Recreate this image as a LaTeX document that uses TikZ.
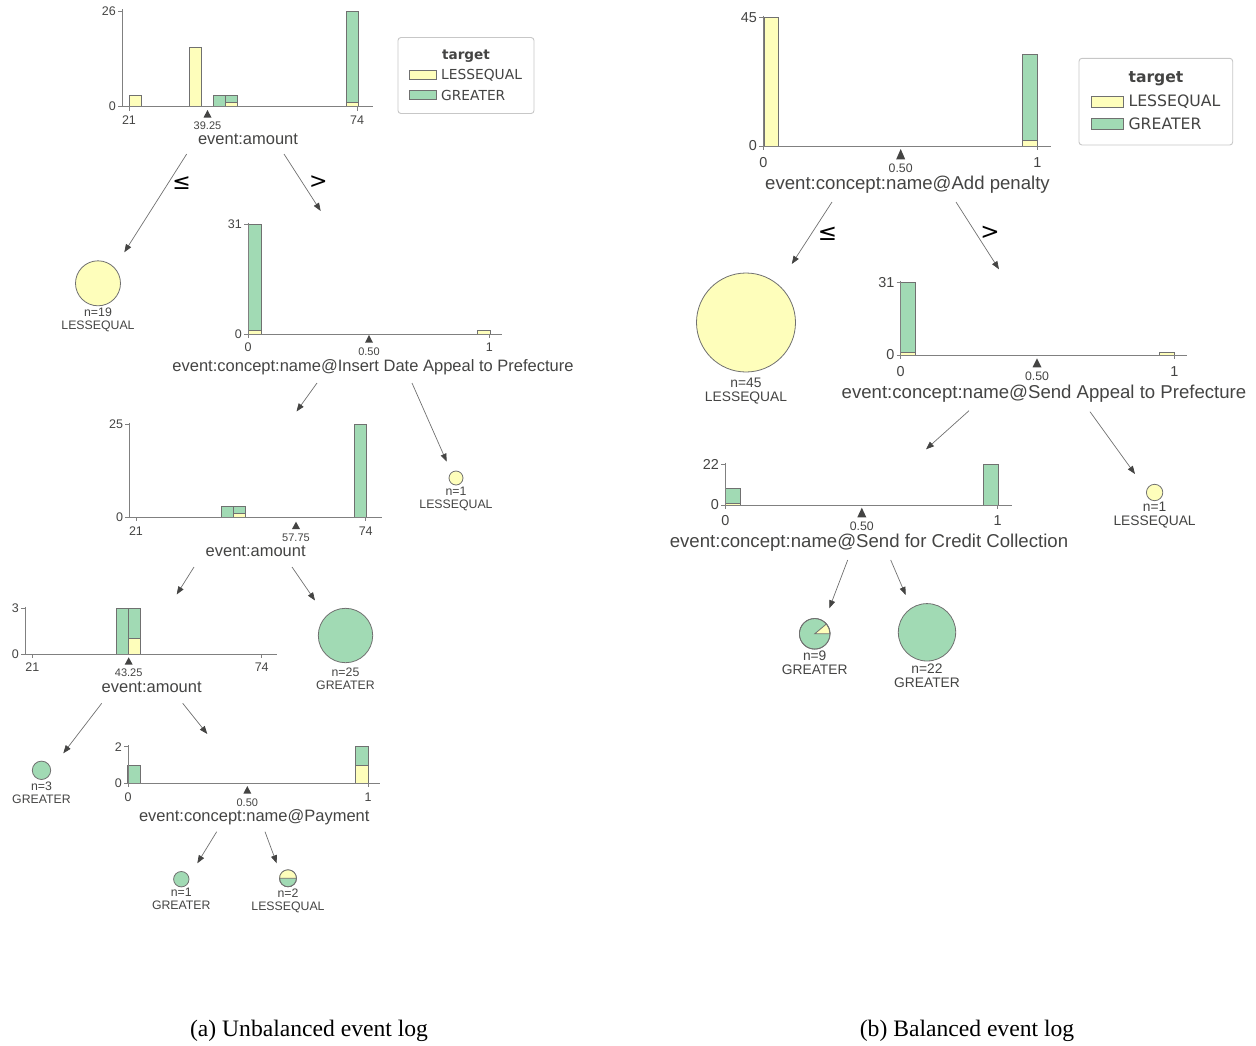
\documentclass[tikz,border=0pt]{standalone}
\usepackage{fontspec}
\setmainfont{Liberation Serif}
\newfontfamily\dtfont{Liberation Sans}
\newfontfamily\legfont{DejaVu Sans}
\usetikzlibrary{arrows.meta,positioning}
\definecolor{lessequal}{HTML}{FEFEBB}
\definecolor{greater}{HTML}{A1DAB4}
\definecolor{textgray}{HTML}{444443}
\definecolor{edgegray}{HTML}{707070}
\definecolor{axisgray}{HTML}{808080}
\tikzset{
  ybar/.style={fill=lessequal, draw=edgegray, line width=0.8pt},
  gbar/.style={fill=greater, draw=edgegray, line width=0.8pt},
  axis line/.style={draw=axisgray, line width=0.9pt},
  split wedge/.style={fill=textgray},
  edge arrow/.style={draw=edgegray, line width=0.7pt, -{Triangle[length=8pt,width=6pt,color=textgray]}},
  edge sign a/.style={inner sep=0pt, font=\legfont\fontsize{22}{22}\selectfont},
  edge sign b/.style={inner sep=0pt, font=\legfont\fontsize{23}{23}\selectfont},
  tick a/.style={text=textgray, inner sep=0pt, font=\dtfont\fontsize{12.5}{14}\selectfont},
  tick b/.style={text=textgray, inner sep=0pt, font=\dtfont\fontsize{14.4}{16}\selectfont},
  value a/.style={text=textgray, inner sep=0pt, font=\dtfont\fontsize{11}{12}\selectfont},
  value b/.style={text=textgray, inner sep=0pt, font=\dtfont\fontsize{12.3}{13}\selectfont},
  split a/.style={text=textgray, inner sep=0pt, font=\dtfont\fontsize{16.5}{18}\selectfont},
  split b/.style={text=textgray, inner sep=0pt, font=\dtfont\fontsize{18.6}{20}\selectfont},
  leaf/.style={circle, draw=edgegray, line width=0.8pt, inner sep=0pt, minimum size=#1},
  leaf text a/.style={text=textgray, inner sep=0pt, align=center, font=\dtfont\fontsize{12.3}{13}\selectfont},
  leaf text b/.style={text=textgray, inner sep=0pt, align=center, font=\dtfont\fontsize{13.8}{14.4}\selectfont},
  legend box/.style={draw=black!22, fill=white, rounded corners=3pt, line width=0.9pt},
  legend swatch/.style={draw=edgegray, line width=0.6pt},
  legend title a/.style={text=textgray, inner sep=0pt, font=\legfont\bfseries\fontsize{13.6}{15}\selectfont},
  legend title b/.style={text=textgray, inner sep=0pt, font=\legfont\bfseries\fontsize{15.6}{17}\selectfont},
  legend text a/.style={text=textgray, inner sep=0pt, anchor=west, font=\legfont\fontsize{13.8}{15}\selectfont},
  legend text b/.style={text=textgray, inner sep=0pt, anchor=west, font=\legfont\fontsize{15.7}{17}\selectfont},
  caption/.style={inner sep=0pt, font=\fontsize{23.6}{26}\selectfont}
}

\begin{document}
\begin{tikzpicture}[x=1pt, y=-1pt]
  \useasboundingbox (0,0) rectangle (1256,1045);

  \draw[ybar] (129,106.5) rectangle (141,95.5);
  \draw[ybar] (189,106.5) rectangle (201,47.7);
  \draw[gbar] (213.5,106.5) rectangle (225.5,95.5);
  \draw[ybar] (225.5,106.5) rectangle (237.5,102.8);
  \draw[gbar] (225.5,102.8) rectangle (237.5,95.5);
  \draw[ybar] (346,106.5) rectangle (358,102.8);
  \draw[gbar] (346,102.8) rectangle (358,11);
  \draw[axis line] (122,9) -- (122,106.5) -- (373,106.5);
  \draw[axis line] (118,11) -- (122,11) (118,106.5) -- (122,106.5) (129,106.5) -- (129,110.5) (357,106.5) -- (357,110.5);
  \node[tick a, anchor=east] (a1y1) at (116,11) {26};
  \node[tick a, anchor=east] (a1y0) at (116,106.5) {0};
  \node[tick a] (a1x0) at (129,120.5) {21};
  \node[tick a] (a1x1) at (357,120.5) {74};
  \fill[split wedge] (203.5,117.5) -- (211.5,117.5) -- (207.5,110) -- cycle;
  \node[value a] (a1v) at (207.5,126) {39.25};
  \node[split a] (sa1) at (248,139.5) {event:amount};

  \draw[legend box] (398,37.5) rectangle (534,113.5);
  \node[legend title a] (lega) at (466,56) {target};
  \draw[legend swatch, fill=lessequal] (409,70) rectangle (436,79.5);
  \node[legend text a] (lega1) at (441,75.5) {LESSEQUAL};
  \draw[legend swatch, fill=greater] (409,90) rectangle (436,99.5);
  \node[legend text a] (lega2) at (441,95.5) {GREATER};

  \coordinate (ea1s) at (186.7,154);
  \coordinate (ea1e) at (124.3,252.3);
  \coordinate (ea2s) at (284,154);
  \coordinate (ea2e) at (320.7,211);
  \draw[edge arrow] (ea1s) -- (ea1e);
  \draw[edge arrow] (ea2s) -- (ea2e);
  \node[edge sign a] (sga1) at (181.7,183.3) {≤};
  \node[edge sign a] (sga2) at (318.3,181.7) {>};

  \node[leaf=45pt, fill=lessequal] (la1) at (98,283.3) {};
  \node[leaf text a, below=1.6pt of la1] (la1t) {n=19\\LESSEQUAL};

  \draw[ybar] (248,334) rectangle (261,330.5);
  \draw[gbar] (248,330.5) rectangle (261,224.3);
  \draw[ybar] (477,334) rectangle (490,330.5);
  \draw[axis line] (248,222.5) -- (248,334) -- (502,334);
  \draw[axis line] (244,224.3) -- (248,224.3) (244,334) -- (248,334) (248,334) -- (248,338) (489.3,334) -- (489.3,338);
  \node[tick a, anchor=east] (a2y1) at (242,224.3) {31};
  \node[tick a, anchor=east] (a2y0) at (242,334) {0};
  \node[tick a] (a2x0) at (248,347) {0};
  \node[tick a] (a2x1) at (489.3,347) {1};
  \fill[split wedge] (365,342.7) -- (373,342.7) -- (369,335) -- cycle;
  \node[value a] (a2v) at (369,351.5) {0.50};
  \node[split a] (sa2) at (373,367) {event:concept:name@Insert Date Appeal to Prefecture};

  \coordinate (ea3s) at (317,383);
  \coordinate (ea3e) at (296.5,411.5);
  \coordinate (ea4s) at (412,383);
  \coordinate (ea4e) at (446.7,461.7);
  \draw[edge arrow] (ea3s) -- (ea3e);
  \draw[edge arrow] (ea4s) -- (ea4e);

  \node[leaf=14pt, fill=lessequal] (la2) at (456,478) {};
  \node[leaf text a, below=1.2pt of la2] (la2t) {n=1\\LESSEQUAL};

  \draw[gbar] (221,517.3) rectangle (233,506.1);
  \draw[ybar] (233,517.3) rectangle (245,513.6);
  \draw[gbar] (233,513.6) rectangle (245,506.1);
  \draw[gbar] (354,517.3) rectangle (366,424.3);
  \draw[axis line] (129.3,422.5) -- (129.3,517.3) -- (381.7,517.3);
  \draw[axis line] (125.3,424.3) -- (129.3,424.3) (125.3,517.3) -- (129.3,517.3) (136,517.3) -- (136,521.3) (365.7,517.3) -- (365.7,521.3);
  \node[tick a, anchor=east] (a3y1) at (123.3,424.3) {25};
  \node[tick a, anchor=east] (a3y0) at (123.3,517.3) {0};
  \node[tick a] (a3x0) at (136,531.5) {21};
  \node[tick a] (a3x1) at (365.7,531.5) {74};
  \fill[split wedge] (292,529) -- (300,529) -- (296,521.7) -- cycle;
  \node[value a] (a3v) at (296,537.7) {57.75};
  \node[split a] (sa3) at (255.7,551) {event:amount};

  \coordinate (ea5s) at (194,567);
  \coordinate (ea5e) at (176.7,594.5);
  \coordinate (ea6s) at (292,567);
  \coordinate (ea6e) at (315,600.5);
  \draw[edge arrow] (ea5s) -- (ea5e);
  \draw[edge arrow] (ea6s) -- (ea6e);

  \node[leaf=54.4pt, fill=greater] (la3) at (345.5,635.5) {};
  \node[leaf text a, below=4.4pt of la3] (la3t) {n=25\\GREATER};

  \draw[gbar] (116.7,654) rectangle (128.7,608.3);
  \draw[ybar] (128.7,654) rectangle (140.7,638.8);
  \draw[gbar] (128.7,638.8) rectangle (140.7,608.3);
  \draw[axis line] (25,606.5) -- (25,654) -- (277.3,654);
  \draw[axis line] (21,608.3) -- (25,608.3) (21,654) -- (25,654) (32.3,654) -- (32.3,658) (261.7,654) -- (261.7,658);
  \node[tick a, anchor=east] (a4y1) at (19,608.3) {3};
  \node[tick a, anchor=east] (a4y0) at (19,654) {0};
  \node[tick a] (a4x0) at (32.3,667.5) {21};
  \node[tick a] (a4x1) at (261.7,667.5) {74};
  \fill[split wedge] (124.7,664.7) -- (132.7,664.7) -- (128.7,657.3) -- cycle;
  \node[value a] (a4v) at (128.7,672.3) {43.25};
  \node[split a] (sa4) at (151.7,687.5) {event:amount};

  \coordinate (ea7s) at (101.7,703.3);
  \coordinate (ea7e) at (63.3,753.3);
  \coordinate (ea8s) at (182.7,703.3);
  \coordinate (ea8e) at (207.3,734);
  \draw[edge arrow] (ea7s) -- (ea7e);
  \draw[edge arrow] (ea8s) -- (ea8e);

  \node[leaf=18.4pt, fill=greater] (la4) at (41.5,770.3) {};
  \node[leaf text a, below=1.8pt of la4] (la4t) {n=3\\GREATER};

  \draw[gbar] (127.3,783.3) rectangle (140.3,765);
  \draw[ybar] (355.7,783.3) rectangle (368.3,765);
  \draw[gbar] (355.7,765) rectangle (368.3,746.7);
  \draw[axis line] (128,745) -- (128,783.3) -- (380,783.3);
  \draw[axis line] (124,746.7) -- (128,746.7) (124,783.3) -- (128,783.3) (128,783.3) -- (128,787.3) (368,783.3) -- (368,787.3);
  \node[tick a, anchor=east] (a5y1) at (122,746.7) {2};
  \node[tick a, anchor=east] (a5y0) at (122,783.3) {0};
  \node[tick a] (a5x0) at (128,797.3) {0};
  \node[tick a] (a5x1) at (368,797.3) {1};
  \fill[split wedge] (243.3,793.7) -- (251.3,793.7) -- (247.3,786) -- cycle;
  \node[value a] (a5v) at (247.3,802.3) {0.50};
  \node[split a] (sa5) at (254.3,817.3) {event:concept:name@Payment};

  \coordinate (ea9s) at (216.7,831.7);
  \coordinate (ea9e) at (197.3,863.3);
  \coordinate (ea10s) at (265,831.7);
  \coordinate (ea10e) at (276.7,863.3);
  \draw[edge arrow] (ea9s) -- (ea9e);
  \draw[edge arrow] (ea10s) -- (ea10e);

  \node[leaf=15.4pt, fill=greater] (la5) at (181.3,879.2) {};
  \node[leaf text a, below=1pt of la5] (la5t) {n=1\\GREATER};
  \node[leaf=17pt, fill=greater] (la6) at (288,878.3) {};
  \fill[lessequal] (la6.west) arc[start angle=180, end angle=360, radius=8.5] -- cycle;
  \draw[edgegray, line width=0.8pt] (la6.west) -- (la6.east) (la6.center) circle[radius=8.5];
  \node[leaf text a, below=1pt of la6] (la6t) {n=2\\LESSEQUAL};

  \draw[ybar] (764,146) rectangle (778.5,17.3);
  \draw[ybar] (1022.7,146) rectangle (1037.3,140.3);
  \draw[gbar] (1022.7,140.3) rectangle (1037.3,54.5);
  \draw[axis line] (763.3,15.5) -- (763.3,146) -- (1050.7,146);
  \draw[axis line] (759.3,17.3) -- (763.3,17.3) (759.3,146) -- (763.3,146) (763.3,146) -- (763.3,150) (1037.3,146) -- (1037.3,150);
  \node[tick b, anchor=east] (b1y1) at (757,17.3) {45};
  \node[tick b, anchor=east] (b1y0) at (757,146) {0};
  \node[tick b] (b1x0) at (763.3,162.3) {0};
  \node[tick b] (b1x1) at (1037.3,162.3) {1};
  \fill[split wedge] (896.2,159.3) -- (905.2,159.3) -- (900.7,149) -- cycle;
  \node[value b] (b1v) at (900.7,168.3) {0.50};
  \node[split b] (sb1) at (907.5,184.7) {event:concept:name@Add penalty};

  \draw[legend box] (1079,58.3) rectangle (1232.7,145);
  \node[legend title b] (legb) at (1156,79) {target};
  \draw[legend swatch, fill=lessequal] (1091,96.7) rectangle (1123.3,107.5);
  \node[legend text b] (legb1) at (1128.3,102) {LESSEQUAL};
  \draw[legend swatch, fill=greater] (1091,118.3) rectangle (1123.3,129.3);
  \node[legend text b] (legb2) at (1128.3,123.5) {GREATER};

  \coordinate (eb1s) at (832,202);
  \coordinate (eb1e) at (791.8,264);
  \coordinate (eb2s) at (956,202);
  \coordinate (eb2e) at (999,269.3);
  \draw[edge arrow] (eb1s) -- (eb1e);
  \draw[edge arrow] (eb2s) -- (eb2e);
  \node[edge sign b] (sgb1) at (827.5,233.3) {≤};
  \node[edge sign b] (sgb2) at (990,233) {>};

  \node[leaf=99pt, fill=lessequal] (lb1) at (746,322.5) {};
  \node[leaf text b, below=5.2pt of lb1] (lb1t) {n=45\\LESSEQUAL};

  \draw[ybar] (900.7,355) rectangle (915,352.7);
  \draw[gbar] (900.7,352.7) rectangle (915,282.3);
  \draw[ybar] (1159.6,355) rectangle (1174.3,352.7);
  \draw[axis line] (900.7,280.5) -- (900.7,355) -- (1187,355);
  \draw[axis line] (896.7,282.3) -- (900.7,282.3) (896.7,355) -- (900.7,355) (900.7,355) -- (900.7,359) (1174.3,355) -- (1174.3,359);
  \node[tick b, anchor=east] (b2y1) at (894.5,282.3) {31};
  \node[tick b, anchor=east] (b2y0) at (894.5,355) {0};
  \node[tick b] (b2x0) at (900.7,371.7) {0};
  \node[tick b] (b2x1) at (1174.3,371.7) {1};
  \fill[split wedge] (1032.5,367.3) -- (1041.5,367.3) -- (1037,358.3) -- cycle;
  \node[value b] (b2v) at (1037,376.7) {0.50};
  \node[split b] (sb2) at (1044,394) {event:concept:name@Send Appeal to Prefecture};

  \coordinate (eb3s) at (969,410.7);
  \coordinate (eb3e) at (926,449.3);
  \coordinate (eb4s) at (1090,411.7);
  \coordinate (eb4e) at (1135,474);
  \draw[edge arrow] (eb3s) -- (eb3e);
  \draw[edge arrow] (eb4s) -- (eb4e);

  \node[leaf=16.4pt, fill=lessequal] (lb2) at (1154.6,492.5) {};
  \node[leaf text b, below=0.6pt of lb2] (lb2t) {n=1\\LESSEQUAL};

  \draw[ybar] (725.4,505) rectangle (740,503.2);
  \draw[gbar] (725.4,503.2) rectangle (740,488.4);
  \draw[gbar] (983.2,505) rectangle (998.2,464.3);
  \draw[axis line] (725.4,462.5) -- (725.4,505) -- (1011.8,505);
  \draw[axis line] (721.4,464.3) -- (725.4,464.3) (721.4,505) -- (725.4,505) (725.4,505) -- (725.4,509) (997.5,505) -- (997.5,509);
  \node[tick b, anchor=east] (b3y1) at (719,464.3) {22};
  \node[tick b, anchor=east] (b3y0) at (719,505) {0};
  \node[tick b] (b3x0) at (725.4,521) {0};
  \node[tick b] (b3x1) at (997.5,521) {1};
  \fill[split wedge] (857.3,517.3) -- (866.3,517.3) -- (861.8,507.7) -- cycle;
  \node[value b] (b3v) at (861.8,526.5) {0.50};
  \node[split b] (sb3) at (869,543) {event:concept:name@Send for Credit Collection};

  \coordinate (eb5s) at (847.7,560);
  \coordinate (eb5e) at (829.3,608.3);
  \coordinate (eb6s) at (890.7,560);
  \coordinate (eb6e) at (905.7,595);
  \draw[edge arrow] (eb5s) -- (eb5e);
  \draw[edge arrow] (eb6s) -- (eb6e);

  \node[leaf=30.6pt, fill=greater] (lb3) at (814.7,633.8) {};
  \draw[edgegray, line width=0.8pt, fill=lessequal] (lb3.center) -- ++(15.3,0) arc[start angle=0, end angle=-40, radius=15.3] -- cycle;
  \draw[edgegray, line width=0.8pt] (lb3.center) circle[radius=15.3];
  \node[leaf text b, below=1.2pt of lb3] (lb3t) {n=9\\GREATER};
  \node[leaf=57.4pt, fill=greater] (lb4) at (927,632.3) {};
  \node[leaf text b, below=2.2pt of lb4] (lb4t) {n=22\\GREATER};

  \node[caption] (capa) at (309,1030.5) {(a) Unbalanced event log};
  \node[caption] (capb) at (967,1030.5) {(b) Balanced event log};
\end{tikzpicture}
\end{document}
